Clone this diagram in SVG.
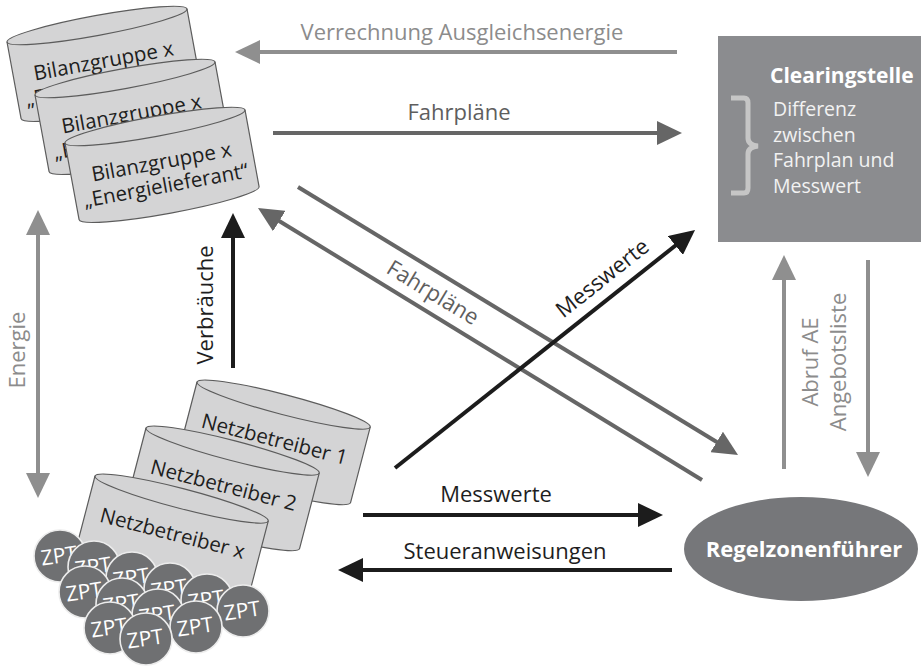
<svg xmlns="http://www.w3.org/2000/svg" width="923" height="667" viewBox="0 0 923 667">
<style>
text { font-family: "Open Sans", "Liberation Sans", sans-serif; }
.cyl { fill: #d4d4d5; stroke: #5c5c5c; stroke-width: 1.2; }
.edge { fill: none; stroke: #5c5c5c; stroke-width: 1.2; }
.ct { font-size: 20.5px; fill: #1e1e1e; text-anchor: middle; }
.zpt circle { fill: #6f7072; stroke: #ececec; stroke-width: 1.6; }
.zpt text { font-size: 21px; fill: #ffffff; text-anchor: middle; }
.lbl { font-size: 22px; text-anchor: middle; }
.lg { fill: #8c8c8c; }
.dg { fill: #5e5e5e; }
.bk { fill: #1e1e1e; }
.ln { fill: none; stroke-width: 4; }
.s-lg { stroke: #8f8f8f; }
.s-dg { stroke: #666666; }
.s-bk { stroke: #1c1c1c; }
</style>
<defs>
<marker id="ah-lg" viewBox="0 0 25 24" refX="15" refY="12" markerWidth="25" markerHeight="24" markerUnits="userSpaceOnUse" orient="auto-start-reverse"><path d="M0,0 L25,12 L0,24 Z" fill="#8f8f8f"/></marker>
<marker id="ah-dg" viewBox="0 0 25 24" refX="15" refY="12" markerWidth="25" markerHeight="24" markerUnits="userSpaceOnUse" orient="auto-start-reverse"><path d="M0,0 L25,12 L0,24 Z" fill="#666666"/></marker>
<marker id="ah-bk" viewBox="0 0 25 24" refX="15" refY="12" markerWidth="25" markerHeight="24" markerUnits="userSpaceOnUse" orient="auto-start-reverse"><path d="M0,0 L25,12 L0,24 Z" fill="#1c1c1c"/></marker>
</defs>

<g id="bilanzgruppe-1" transform="translate(7,42) rotate(-10.4)">
<path class="cyl" d="M0,0 L0,78 A91.5,10 0 0 0 183,78 L183,0 A91.5,10 0 0 0 0,0 Z"/>
<path class="edge" d="M0,0 A91.5,10 0 0 0 183,0"/>
<text class="ct" x="91.5" y="43">Bilanzgruppe x</text>
<text class="ct" x="91.5" y="67">„Energielieferant“</text>
</g>
<g id="bilanzgruppe-2" transform="translate(35,95) rotate(-10.4)">
<path class="cyl" d="M0,0 L0,78 A91.5,10 0 0 0 183,78 L183,0 A91.5,10 0 0 0 0,0 Z"/>
<path class="edge" d="M0,0 A91.5,10 0 0 0 183,0"/>
<text class="ct" x="91.5" y="43">Bilanzgruppe x</text>
<text class="ct" x="91.5" y="67">„Energielieferant“</text>
</g>
<g id="bilanzgruppe-3" transform="translate(65,143) rotate(-10.4)">
<path class="cyl" d="M0,0 L0,78 A91.5,10 0 0 0 183,78 L183,0 A91.5,10 0 0 0 0,0 Z"/>
<path class="edge" d="M0,0 A91.5,10 0 0 0 183,0"/>
<text class="ct" x="91.5" y="43">Bilanzgruppe x</text>
<text class="ct" x="91.5" y="67">„Energielieferant“</text>
</g>

<g id="netzbetreiber-1" transform="translate(197,382) rotate(14.6)">
<path class="cyl" d="M0,0 L0,78 A89.5,10 0 0 0 179,78 L179,0 A89.5,10 0 0 0 0,0 Z"/>
<path class="edge" d="M0,0 A89.5,10 0 0 0 179,0"/>
<text class="ct" x="89.5" y="43">Netzbetreiber 1</text>
</g>
<g id="netzbetreiber-2" transform="translate(146,428) rotate(14.6)">
<path class="cyl" d="M0,0 L0,78 A89.5,10 0 0 0 179,78 L179,0 A89.5,10 0 0 0 0,0 Z"/>
<path class="edge" d="M0,0 A89.5,10 0 0 0 179,0"/>
<text class="ct" x="89.5" y="43">Netzbetreiber 2</text>
</g>
<g id="netzbetreiber-x" transform="translate(95,476) rotate(14.6)">
<path class="cyl" d="M0,0 L0,78 A89.5,10 0 0 0 179,78 L179,0 A89.5,10 0 0 0 0,0 Z"/>
<path class="edge" d="M0,0 A89.5,10 0 0 0 179,0"/>
<text class="ct" x="89.5" y="43">Netzbetreiber x</text>
</g>

<g id="zpt-group" class="zpt">
<g id="zpt-c1"><circle cx="60" cy="556" r="26"/><text transform="translate(60,563) rotate(-8)">ZPT</text></g>
<g id="zpt-c2"><circle cx="94" cy="567" r="26"/><text transform="translate(94,574) rotate(-8)">ZPT</text></g>
<g id="zpt-c3"><circle cx="132" cy="578" r="26"/><text transform="translate(132,585) rotate(-8)">ZPT</text></g>
<g id="zpt-c4"><circle cx="170" cy="589" r="26"/><text transform="translate(170,596) rotate(-8)">ZPT</text></g>
<g id="zpt-c5"><circle cx="207" cy="600" r="26"/><text transform="translate(207,607) rotate(-8)">ZPT</text></g>
<g id="zpt-c6"><circle cx="243" cy="611" r="26"/><text transform="translate(243,618) rotate(-8)">ZPT</text></g>
<g id="zpt-d1"><circle cx="85" cy="592" r="26"/><text transform="translate(85,599) rotate(-8)">ZPT</text></g>
<g id="zpt-d2"><circle cx="122" cy="604" r="26"/><text transform="translate(122,611) rotate(-8)">ZPT</text></g>
<g id="zpt-d3"><circle cx="158" cy="615" r="26"/><text transform="translate(158,622) rotate(-8)">ZPT</text></g>
<g id="zpt-d4"><circle cx="196" cy="627" r="26"/><text transform="translate(196,634) rotate(-8)">ZPT</text></g>
<g id="zpt-e1"><circle cx="110" cy="628" r="26"/><text transform="translate(110,635) rotate(-8)">ZPT</text></g>
<g id="zpt-e2"><circle cx="146" cy="639" r="26"/><text transform="translate(146,646) rotate(-8)">ZPT</text></g>
</g>

<g id="clearingstelle">
<rect x="718" y="36" width="203" height="206" fill="#8b8c8f"/>
<path d="M731,98 L744,98 Q748,98 748,103 L748,138 Q748,145 758,146 Q748,147 748,154 L748,188 Q748,193 744,193 L731,193" fill="none" stroke="#c6c6c6" stroke-width="5"/>
<text x="770" y="83" font-size="21" font-weight="bold" fill="#ffffff">Clearingstelle</text>
<text x="773" y="116" font-size="19.5" fill="#f2f2f2">Differenz</text>
<text x="773" y="142" font-size="19.5" fill="#f2f2f2">zwischen</text>
<text x="773" y="167" font-size="19.5" fill="#f2f2f2">Fahrplan und</text>
<text x="773" y="193" font-size="19.5" fill="#f2f2f2">Messwert</text>
</g>

<g id="regelzonenfuehrer">
<ellipse cx="801" cy="549" rx="117" ry="52" fill="#76777a"/>
<text x="804" y="557" font-size="22" font-weight="bold" fill="#ffffff" text-anchor="middle">Regelzonenführer</text>
</g>

<g id="connectors">
<line class="ln s-lg" x1="677" y1="52" x2="245" y2="52" marker-end="url(#ah-lg)"/>
<line class="ln s-dg" x1="273" y1="133" x2="672" y2="133" marker-end="url(#ah-dg)"/>
<line class="ln s-lg" x1="38" y1="220" x2="38" y2="488" marker-start="url(#ah-lg)" marker-end="url(#ah-lg)"/>
<line class="ln s-bk" x1="233" y1="368" x2="233" y2="223" marker-end="url(#ah-bk)"/>
<line class="ln s-dg" x1="298" y1="187" x2="729.5" y2="449.8" marker-end="url(#ah-dg)"/>
<line class="ln s-dg" x1="702" y1="480" x2="266.5" y2="213.2" marker-end="url(#ah-dg)"/>
<line class="ln s-bk" x1="395" y1="468" x2="687.2" y2="236.2" marker-end="url(#ah-bk)"/>
<line class="ln s-lg" x1="784" y1="469" x2="784" y2="265" marker-end="url(#ah-lg)"/>
<line class="ln s-lg" x1="868" y1="260" x2="868" y2="467" marker-end="url(#ah-lg)"/>
<line class="ln s-bk" x1="363" y1="515" x2="653" y2="515" marker-end="url(#ah-bk)"/>
<line class="ln s-bk" x1="672" y1="570" x2="348" y2="570" marker-end="url(#ah-bk)"/>

<text class="lbl lg" x="462" y="40">Verrechnung Ausgleichsenergie</text>
<text class="lbl dg" x="459" y="120">Fahrpläne</text>
<text class="lbl lg" transform="translate(25,350) rotate(-90)">Energie</text>
<text class="lbl bk" transform="translate(213,305) rotate(-90)">Verbräuche</text>
<text class="lbl dg" transform="translate(429,299) rotate(31.3)">Fahrpläne</text>
<text class="lbl bk" transform="translate(607,284) rotate(-38.4)">Messwerte</text>
<text class="lbl lg" transform="translate(818,362) rotate(-90)">Abruf AE</text>
<text class="lbl lg" transform="translate(846,362) rotate(-90)">Angebotsliste</text>
<text class="lbl bk" x="496" y="502">Messwerte</text>
<text class="lbl bk" x="505" y="559">Steueranweisungen</text>
</g>
</svg>
